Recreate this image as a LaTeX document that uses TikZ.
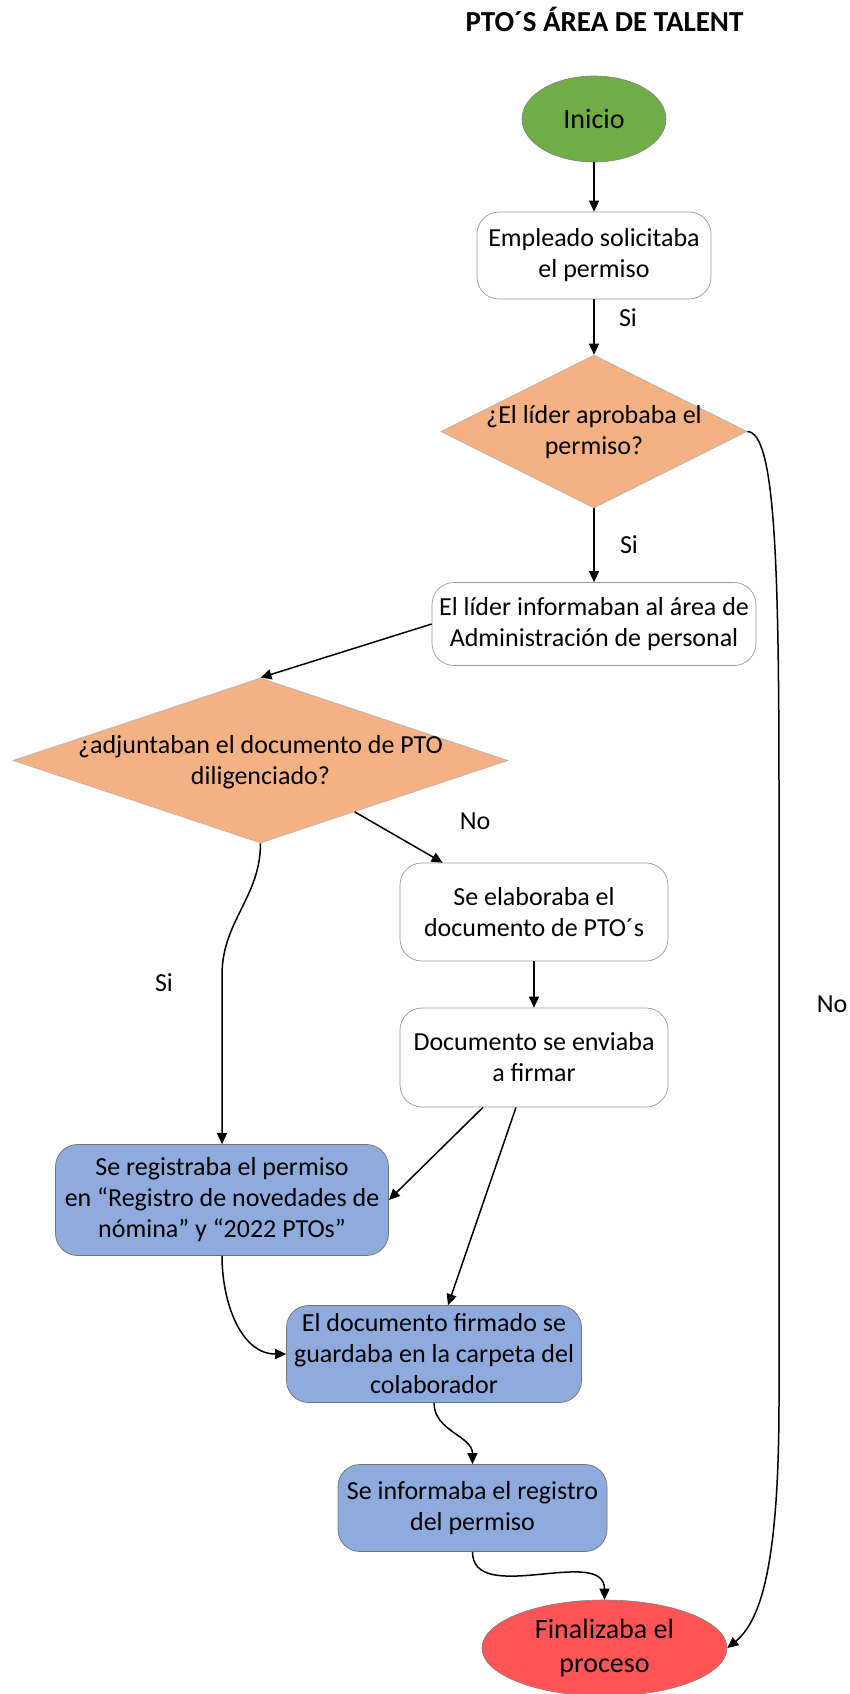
\documentclass[tikz,border=0pt]{standalone}
\usepackage{fontspec}
\setmainfont{Carlito}
\usetikzlibrary{shapes.geometric,arrows.meta,calc}
\definecolor{startgreen}{HTML}{70AD47}
\definecolor{decorange}{HTML}{F4B183}
\definecolor{taskblue}{HTML}{8FAADC}
\definecolor{endred}{HTML}{FF5557}
\begin{document}
\begin{tikzpicture}[x=1pt,y=-1pt,
  every node/.style={font=\fontsize{26}{31}\selectfont},
  flow/.style={line width=1.5pt,-{Triangle[length=11pt,width=10pt]}},
  procbox/.style={draw=black!40,line width=0.7pt,rounded corners=22pt,fill=white,align=center,inner sep=0pt},
  taskbox/.style={procbox,fill=taskblue,draw=black!55},
  decision/.style={diamond,draw=black!30,line width=0.6pt,fill=decorange,inner sep=0pt},
  terminal/.style={ellipse,draw=black!50,line width=0.6pt,inner sep=0pt,align=center},
  lbl/.style={inner sep=0pt}]
\useasboundingbox (0,0) rectangle (850,1694);
\fill[white] (0,0) rectangle (850,1694);

% heading
\node[anchor=base,font=\fontsize{29}{34}\selectfont\bfseries] (title) at (604.5,32) {PTO´S ÁREA DE TALENT};

% flow elements
\node[terminal,fill=startgreen,minimum width=144pt,minimum height=86pt,font=\fontsize{28}{33}\selectfont] (ini) at (594,119) {Inicio};
\node[procbox,minimum width=234pt,minimum height=87pt] (emp) at (594,255.5) {Empleado solicitaba\\el permiso};
\node[decision,minimum width=306pt,minimum height=153pt] (d1) at (594,431.5) {};
\node[align=center,inner sep=0pt] (d1t) at (594,432) {¿El líder aprobaba el\\permiso?};
\node[procbox,minimum width=324pt,minimum height=83pt] (lid) at (594,624) {El líder informaban al área de\\Administración de personal};
\node[decision,minimum width=495pt,minimum height=165pt] (d2) at (260.5,760.5) {};
\node[align=center,inner sep=0pt] (d2t) at (260.5,762) {¿adjuntaban el documento de PTO\\diligenciado?};
\node[procbox,minimum width=268pt,minimum height=98pt] (elab) at (534,912) {Se elaboraba el\\documento de PTO´s};
\node[procbox,minimum width=268pt,minimum height=99pt] (doc) at (534,1057.5) {Documento se enviaba\\a firmar};
\node[taskbox,minimum width=333pt,minimum height=111pt] (reg) at (222,1200) {Se registraba el permiso\\en “Registro de novedades de\\nómina” y “2022 PTOs”};
\node[taskbox,minimum width=295pt,minimum height=97pt] (guar) at (434,1354) {El documento firmado se\\guardaba en la carpeta del\\colaborador};
\node[taskbox,minimum width=269pt,minimum height=87pt] (inf) at (472.5,1508) {Se informaba el registro\\del permiso};
\node[terminal,fill=endred,minimum width=245pt,minimum height=96pt,font=\fontsize{28}{34}\selectfont] (fin) at (604.5,1648) {Finalizaba el\\proceso};

% branch labels
\node[lbl] (si1) at (628,318) {Si};
\node[lbl] (si2) at (629,545) {Si};
\node[lbl] (no1) at (475,821) {No};
\node[lbl] (si3) at (164,983) {Si};
\node[lbl] (no2) at (832,1004) {No};

% connectors
\draw[flow] (ini) -- (emp);
\draw[flow] (emp) -- (d1);
\draw[flow] (d1) -- (lid);
\draw[flow] (d1.east) .. controls (775,432) and (779,560) .. (779,800) -- (779,1400) .. controls (779,1560) and (762,1620) .. (fin.east);
\draw[flow] (lid.west) -- (d2.north);
\draw[flow] ($(d2.east)!0.62!(d2.south)$) -- ([xshift=43pt]elab.north west);
\draw[flow] (elab) -- (doc);
\coordinate (sibend) at (222,975);
\draw[flow] (d2.south) to[out=-90,in=90] (sibend) -- (reg.north);
\draw[flow] ([xshift=-51pt]doc.south) -- (reg.east);
\draw[flow] ([xshift=-18pt]doc.south) -- ([xshift=14pt]guar.north);
\draw[flow] (reg.south) to[out=-90,in=180] (guar.west);
\draw[flow] (guar.south) to[out=-90,in=90] (inf.north);
\draw[flow] (inf.south) to[out=-90,in=90] (fin.north);
\end{tikzpicture}
\end{document}
